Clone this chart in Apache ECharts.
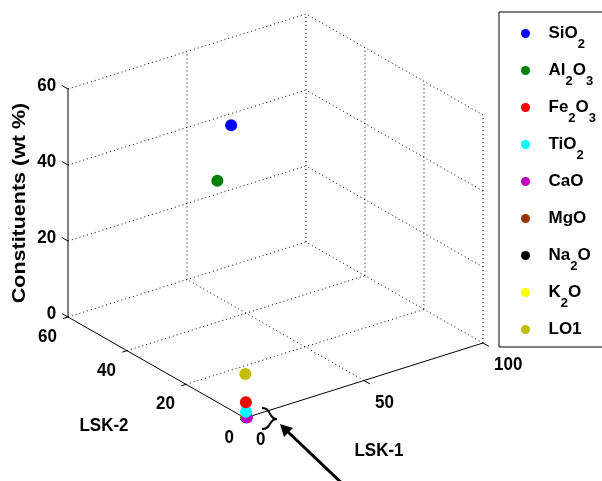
<!DOCTYPE html>
<html>
<head>
<meta charset="utf-8">
<script src="https://cdn.jsdelivr.net/npm/echarts@6/dist/echarts.min.js"></script>
<style>
html, body { margin: 0; padding: 0; background: #fff; }
#main { width: 602px; height: 481px; }
</style>
</head>
<body>
<div id="main"></div>
<script>
// constituents, with their position in the 3-D box (LSK-1, LSK-2, wt %)
var names  = ['SiO2', 'Al2O3', 'Fe2O3', 'TiO2', 'CaO', 'MgO', 'Na2O', 'K2O', 'LO1'];
var colors = ['#0000ff', '#008000', '#ff0000', '#00ffff', '#bf00bf', '#993300', '#000000', '#ffff00', '#bfbf00'];
var lsk1   = [45, 33, 1, 1, 0.8, 0.6, 0.5, 0.6, 2];
var lsk2   = [41, 36, 0.5, 0.5, 0, 0, 0, 0, 1.5];
var wt     = [50, 40, 3.7, 1.2, 0, 0.2, 0.1, 0.2, 10.5];
// back markers first so the hidden ones stay hidden
var drawOrder = [5, 6, 7, 4, 3, 2, 8, 1, 0];

var xTicks = [0, 50, 100];     // LSK-1
var yTicks = [0, 20, 40, 60];  // LSK-2
var zTicks = [0, 20, 40, 60];  // Constituents (wt %)

var FONT = '"Liberation Sans", Arial, sans-serif';

// simple oblique projection of the box onto the page
var O = [245, 418], EX = [2.38, -0.75], EY = [-2.95, -1.683], EZ = [0, -3.8];
function proj(x, y, z) {
	return [O[0] + x * EX[0] + y * EY[0] + z * EZ[0],
	        O[1] + x * EX[1] + y * EY[1] + z * EZ[1]];
}

var xMax = xTicks[xTicks.length - 1], yMax = yTicks[yTicks.length - 1], zMax = zTicks[zTicks.length - 1];

// segments: x1,y1,z1,x2,y2,z2,dotted
var segs = [];
zTicks.forEach(function (z) {
	segs.push([0, yMax, z, xMax, yMax, z, 1]);   // back wall
	segs.push([xMax, 0, z, xMax, yMax, z, 1]);   // side wall
});
xTicks.slice(1).forEach(function (x) { segs.push([x, yMax, 0, x, yMax, zMax, 1]); });
yTicks.slice(0, -1).forEach(function (y) { segs.push([xMax, y, 0, xMax, y, zMax, 1]); });
xTicks.slice(1, -1).forEach(function (x) { segs.push([x, 0, 0, x, yMax, 0, 1]); });
yTicks.slice(1, -1).forEach(function (y) { segs.push([0, y, 0, xMax, y, 0, 1]); });
segs.push([0, 0, 0, xMax, 0, 0, 0]);
segs.push([0, 0, 0, 0, yMax, 0, 0]);
segs.push([0, yMax, 0, 0, yMax, zMax, 0]);
xTicks.forEach(function (x) { segs.push([x, 0, 0, x, -2, 0, 0]); });
yTicks.forEach(function (y) { segs.push([0, y, 0, -2, y, 0, 0]); });
zTicks.forEach(function (z) { segs.push([0, yMax, z, 0, yMax + 2, z, 0]); });

// tick labels
var labels = [];
xTicks.forEach(function (x) { labels.push({ p: [x, 0, 0], text: String(x), dx: 11, dy: 22, align: 'left' }); });
yTicks.forEach(function (y) { labels.push({ p: [0, y, 0], text: String(y), dx: -11, dy: 20, align: 'right' }); });
zTicks.forEach(function (z) { labels.push({ p: [0, yMax + 2, z], text: String(z), dx: -6, dy: 0, align: 'right' }); });

var chart = echarts.init(document.getElementById('main'));

var series = [];
series.push({
	type: 'custom',
	coordinateSystem: 'cartesian2d',
	silent: true,
	clip: false,
	z: 1,
	data: segs,
	renderItem: function (params, api) {
		var a = api.coord(proj(api.value(0), api.value(1), api.value(2)));
		var b = api.coord(proj(api.value(3), api.value(4), api.value(5)));
		var dotted = api.value(6) === 1;
		return {
			type: 'line',
			shape: { x1: a[0], y1: a[1], x2: b[0], y2: b[1] },
			style: { stroke: '#000', lineWidth: 1, lineDash: dotted ? [1, 3] : null }
		};
	}
});
series.push({
	type: 'custom',
	coordinateSystem: 'cartesian2d',
	silent: true,
	clip: false,
	z: 1,
	data: labels.map(function (l) { return l.p; }),
	renderItem: function (params, api) {
		var l = labels[params.dataIndex];
		var c = api.coord(proj(api.value(0), api.value(1), api.value(2)));
		return {
			type: 'text',
			x: c[0] + l.dx,
			y: c[1] + l.dy,
			scaleY: 1.08,
			style: {
				text: l.text, fill: '#000', font: 'bold 17px ' + FONT,
				align: l.align, verticalAlign: 'middle',
				textAlign: l.align, textVerticalAlign: 'middle'
			}
		};
	}
});
drawOrder.forEach(function (i) {
	series.push({
		name: names[i],
		type: 'scatter',
		symbol: 'circle',
		symbolSize: 12,
		data: [proj(lsk1[i], lsk2[i], wt[i])],
		itemStyle: { color: colors[i], opacity: 1 },
		emphasis: { disabled: true },
		z: 3
	});
});

var option = {
	animation: false,
	backgroundColor: '#fff',
	grid: { left: 0, right: 0, top: 0, bottom: 0 },
	xAxis: { type: 'value', min: 0, max: 602, show: false },
	yAxis: { type: 'value', min: 0, max: 481, inverse: true, show: false },
	legend: {
		data: names,
		orient: 'vertical',
		left: 499,
		top: 12,
		padding: [4, 60, 0, 22],
		itemWidth: 36,
		itemHeight: 9,
		itemGap: 2,
		icon: 'circle',
		selectedMode: false,
		borderColor: '#000',
		borderWidth: 1,
		backgroundColor: '#fff',
		formatter: function (n) {
			if (n === 'LO1' || !/\d/.test(n)) return n + '{s| }';
			return n.replace(/(\d)/g, '{s|$1}');
		},
		textStyle: {
			color: '#000', fontFamily: FONT, fontWeight: 'bold', fontSize: 17, lineHeight: 24,
			rich: { s: { color: '#000', fontFamily: FONT, fontWeight: 'bold', fontSize: 13, lineHeight: 24, padding: [22, 0, 0, 0] } }
		}
	},
	graphic: [
		{ type: 'text', x: 20, y: 203, rotation: Math.PI / 2, scaleX: 1.13,
		  style: { text: 'Constituents (wt %)', fill: '#000', font: 'bold 19px ' + FONT, align: 'center', verticalAlign: 'middle' } },
		{ type: 'text', x: 104, y: 426, scaleY: 1.07,
		  style: { text: 'LSK-2', fill: '#000', font: 'bold 17px ' + FONT, align: 'center', verticalAlign: 'middle' } },
		{ type: 'text', x: 379, y: 451, scaleY: 1.07,
		  style: { text: 'LSK-1', fill: '#000', font: 'bold 17px ' + FONT, align: 'center', verticalAlign: 'middle' } },
		{ type: 'bezierCurve', shape: { x1: 262, y1: 408, cpx1: 272, cpy1: 408, cpx2: 268, cpy2: 419, x2: 277, y2: 419 },
		  style: { stroke: '#000', lineWidth: 2, fill: null } },
		{ type: 'bezierCurve', shape: { x1: 277, y1: 419, cpx1: 268, cpy1: 419, cpx2: 272, cpy2: 429, x2: 262, y2: 429 },
		  style: { stroke: '#000', lineWidth: 2, fill: null } },
		{ type: 'line', shape: { x1: 287, y1: 431, x2: 348, y2: 489 }, style: { stroke: '#000', lineWidth: 3 } },
		{ type: 'polygon', shape: { points: [[280, 424], [284, 437], [293, 428]] }, style: { fill: '#000' } }
	],
	series: series
};

chart.setOption(option);
</script>
</body>
</html>
